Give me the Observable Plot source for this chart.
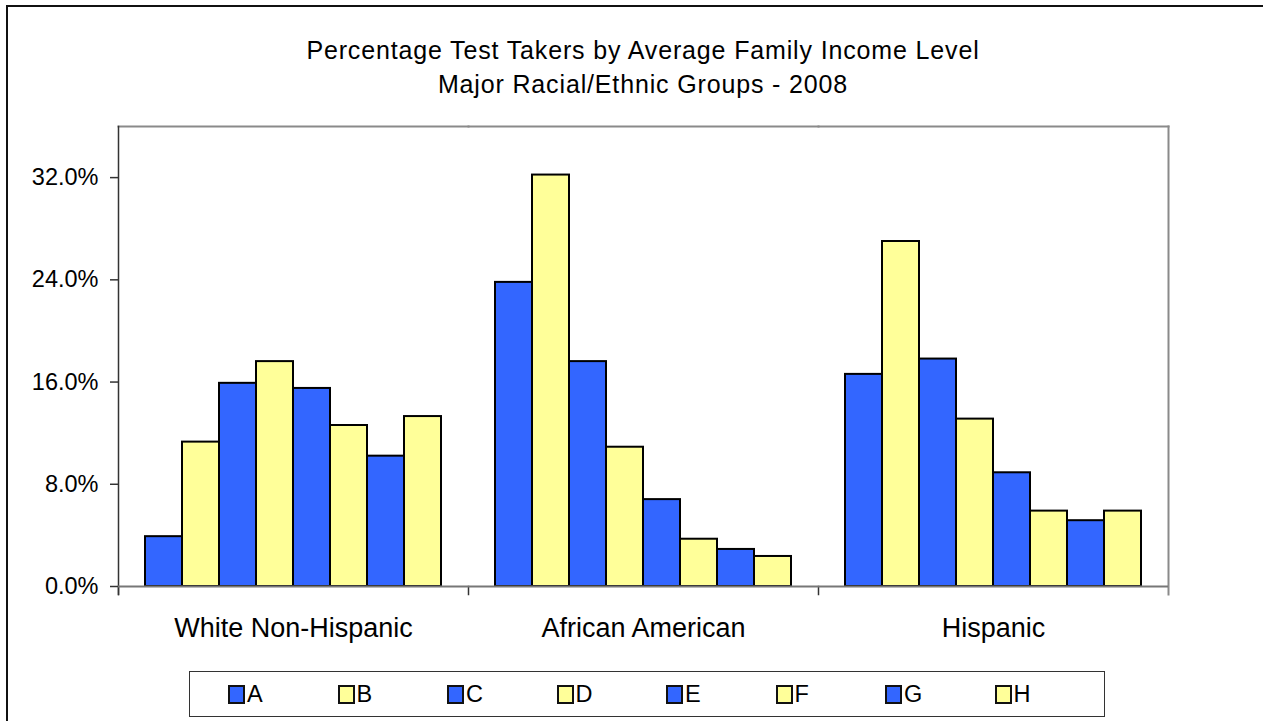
<!DOCTYPE html>
<html>
<head>
<meta charset="utf-8">
<script src="https://cdn.jsdelivr.net/npm/d3@7"></script>
<script src="https://cdn.jsdelivr.net/npm/@observablehq/plot@0.6"></script>
<style>
  html, body { margin: 0; padding: 0; background: #fff; overflow: hidden; width: 1263px; height: 721px; }
  body { position: relative; font-family: "Liberation Sans", Arial, sans-serif; color: #000; }
  #outer { position: absolute; left: 6px; top: 5px; width: 2000px; height: 2000px; border: 2px solid #111; box-sizing: border-box; }
  #title { position: absolute; left: 118px; width: 1050px; top: 33px; text-align: center; font-size: 25px; line-height: 34px; letter-spacing: 0.85px; }
  #chart { position: absolute; left: 0; top: 0; }
  #legend { position: absolute; left: 189px; top: 671px; width: 916px; height: 46px; border: 1.5px solid #333; box-sizing: border-box; background: #fff; display: flex; align-items: center; padding-left: 38px; }
  .item { width: 115.3px; display: flex; align-items: center; font-size: 23.5px; }
  .sw { width: 17px; height: 19px; border: 2px solid #111; box-sizing: border-box; margin-right: 2px; }
</style>
</head>
<body>
<div id="outer"></div>
<div id="title">Percentage Test Takers by Average Family Income Level<br>Major Racial/Ethnic Groups - 2008</div>
<div id="chart"></div>
<div id="legend"></div>
<script>
// Data (percent)
const groups = ["White Non-Hispanic", "African American", "Hispanic"];
const letters = ["A", "B", "C", "D", "E", "F", "G", "H"];
const whiteNonHispanic = [3.9, 11.3, 15.9, 17.6, 15.5, 12.6, 10.2, 13.3];
const africanAmerican = [23.8, 32.2, 17.6, 10.9, 6.8, 3.7, 2.9, 2.35];
const hispanic = [16.6, 27.0, 17.8, 13.1, 8.9, 5.9, 5.15, 5.9];
const yTicks = [0, 8, 16, 24, 32];

const palette = ["#3366FF", "#FFFF99", "#3366FF", "#FFFF99", "#3366FF", "#FFFF99", "#3366FF", "#FFFF99"];

const seriesByGroup = [whiteNonHispanic, africanAmerican, hispanic];
const data = [];
groups.forEach((g, gi) => letters.forEach((l, li) => data.push({group: g, letter: l, value: seriesByGroup[gi][li]})));

const W = 1263, H = 660, plotTop = 126, plotBase = 586;
const plot = Plot.plot({
  width: W,
  height: H,
  marginLeft: 118,
  marginRight: W - 1168,
  marginTop: plotTop,
  marginBottom: H - plotBase,
  style: { fontFamily: "'Liberation Sans', Arial, sans-serif", background: "transparent", overflow: "visible" },
  fx: { domain: groups, padding: 0, label: null },
  x: { domain: letters, paddingInner: 0, paddingOuter: 0.7, axis: null },
  y: { domain: [0, 36], label: null },
  color: { domain: letters, range: palette },
  marks: [
    Plot.barY(data, { fx: "group", x: "letter", y: "value", fill: "letter", stroke: "#000", strokeWidth: 2 }),
    Plot.frame({ anchor: "top", stroke: "#8a8a8a", strokeWidth: 2 }),
    Plot.frame({ anchor: "right", facetAnchor: "right", stroke: "#8a8a8a", strokeWidth: 2, insetBottom: -8 }),
    Plot.frame({ anchor: "left", facetAnchor: "left", stroke: "#333", strokeWidth: 1.5, insetBottom: -8 }),
    Plot.frame({ anchor: "left", stroke: "#333", strokeWidth: 1.5, insetTop: plotBase - plotTop, insetBottom: -8 }),
    Plot.ruleY([0], { stroke: "#777", strokeWidth: 2 }),
    Plot.axisY({ ticks: yTicks, tickFormat: d => d.toFixed(1) + "%", tickSize: 8, tickPadding: 12, fontSize: 23.5, stroke: "#333", strokeWidth: 1.5 }),
    Plot.axisFx({ anchor: "bottom", tickSize: 0, tickPadding: 31, fontSize: 27 })
  ]
});
document.getElementById("chart").appendChild(plot);

// Legend built from the plot's color scale
const color = plot.scale("color");
const leg = document.getElementById("legend");
letters.forEach(l => {
  const it = document.createElement("div");
  it.className = "item";
  const sw = document.createElement("div");
  sw.className = "sw";
  sw.style.background = color.apply(l);
  const tx = document.createElement("span");
  tx.textContent = l;
  it.appendChild(sw);
  it.appendChild(tx);
  leg.appendChild(it);
});
</script>
</body>
</html>
